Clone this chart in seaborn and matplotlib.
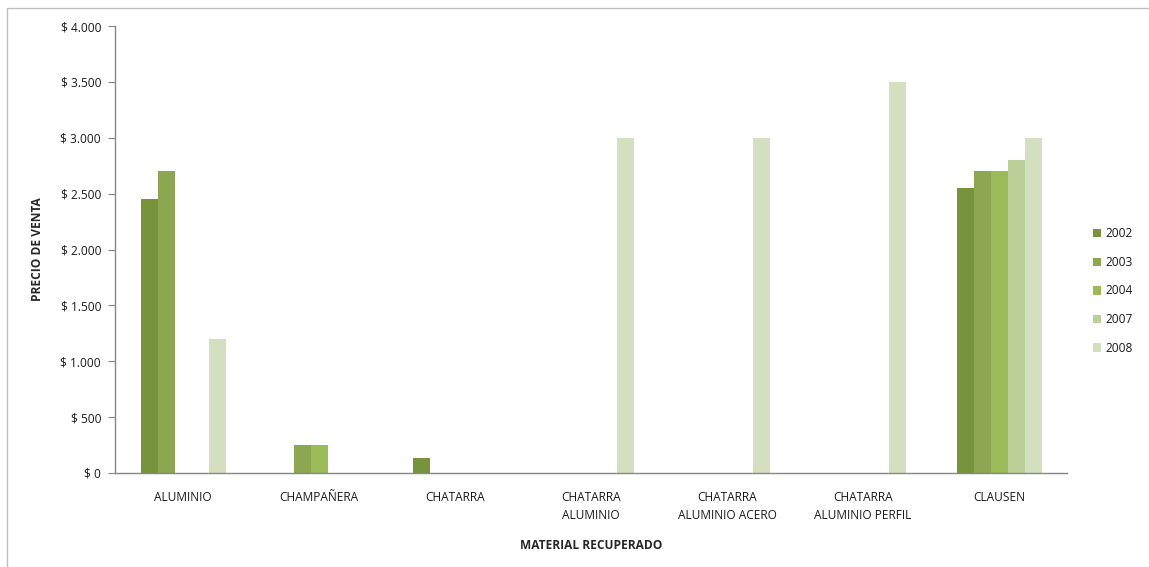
import matplotlib
matplotlib.use("Agg")
import matplotlib.pyplot as plt
import matplotlib.ticker as mticker
import matplotlib.patches as mpatches
import pandas as pd
import seaborn as sns

materiales = ["ALUMINIO", "CHAMPAÑERA", "CHATARRA", "CHATARRA\nALUMINIO",
              "CHATARRA\nALUMINIO ACERO", "CHATARRA\nALUMINIO PERFIL", "CLAUSEN"]
anios = ["2002", "2003", "2004", "2007", "2008"]
precio_2002 = [2450, 0, 130, 0, 0, 0, 2550]
precio_2003 = [2700, 250, 0, 0, 0, 0, 2700]
precio_2004 = [0, 250, 0, 0, 0, 0, 2700]
precio_2007 = [0, 0, 0, 0, 0, 0, 2800]
precio_2008 = [1200, 0, 0, 3000, 3000, 3500, 3000]
colores = ["#77933C", "#8CA651", "#9BBB59", "#BBCF98", "#D3DFBF"]

series = [precio_2002, precio_2003, precio_2004, precio_2007, precio_2008]
rows = []
for anio, vals in zip(anios, series):
    for mat, v in zip(materiales, vals):
        rows.append({"material": mat, "anio": anio, "precio": v})
df = pd.DataFrame(rows)

sns.set_style("white")
plt.rcParams["font.family"] = ["Open Sans", "DejaVu Sans"]
plt.rcParams["text.color"] = "#1a1a1a"
plt.rcParams["xtick.color"] = "#1a1a1a"
plt.rcParams["ytick.color"] = "#1a1a1a"

W, H = 1149, 567
fig = plt.figure(figsize=(W / 100, H / 100), dpi=100)
ax = fig.add_axes([115 / W, 1 - 473 / H, (1067 - 115) / W, (473 - 26) / H])

sns.barplot(data=df, x="material", y="precio", hue="anio", hue_order=anios,
            palette=colores, width=0.625, gap=0, ax=ax, errorbar=None,
            saturation=1, linewidth=0)

ax.set_ylim(0, 4000)
ax.set_xlim(-0.5, len(materiales) - 0.5)
ax.set_yticks(range(0, 4001, 500))
ax.yaxis.set_major_formatter(mticker.FuncFormatter(
    lambda v, p: "$ " + f"{int(v):,}".replace(",", ".")))
ax.tick_params(axis="y", length=5, width=0.8, color="#868686", labelsize=8.6, pad=5, left=True)
ax.tick_params(axis="x", length=0, labelsize=8.6, pad=13)
for lab in ax.get_xticklabels():
    lab.set_linespacing(1.5)

sns.despine(ax=ax)
for s in ["left", "bottom"]:
    ax.spines[s].set_color("#868686")
    ax.spines[s].set_linewidth(1)

ax.set_xlabel("MATERIAL RECUPERADO", fontsize=8.6, fontweight="bold", labelpad=12)
ax.set_ylabel("PRECIO DE VENTA", fontsize=8.6, fontweight="bold", labelpad=12)

handles, labels = ax.get_legend_handles_labels()
ax.legend(handles, labels, loc="center left", bbox_to_anchor=(1082 / W, 1 - 291 / H),
          bbox_transform=fig.transFigure, frameon=False, fontsize=8.6,
          handlelength=0.7, handleheight=0.7, handletextpad=0.4, labelspacing=1.3)

fig.patches.append(mpatches.Rectangle((7 / W, -0.1), 1.2, 1 - 8 / H + 0.1,
                                      transform=fig.transFigure, fill=False,
                                      edgecolor="#BFBFBF", linewidth=1))

fig.savefig("out.png", dpi=100, facecolor="white")
